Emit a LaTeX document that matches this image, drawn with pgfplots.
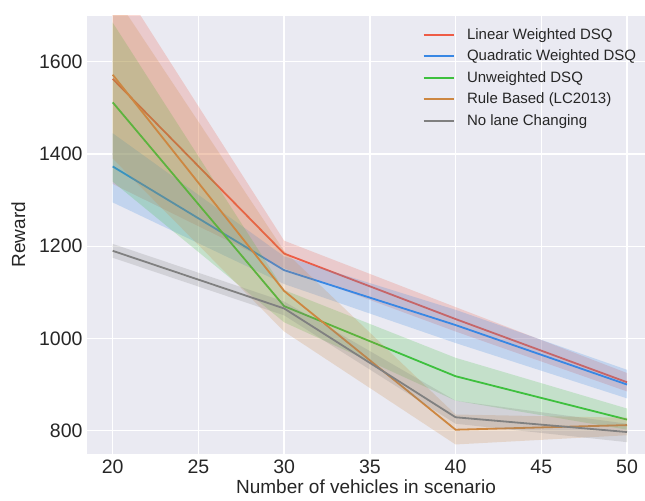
\documentclass[border=0pt]{standalone}
\usepackage{fontspec}
\setmainfont{Liberation Sans}
\usepackage{pgfplots}
\pgfplotsset{compat=1.18}
\definecolor{bgc}{HTML}{EAEAF2}
\definecolor{txt}{HTML}{262626}
\definecolor{cred}{RGB}{238,92,70}
\definecolor{cblue}{RGB}{56,135,228}
\definecolor{cgreen}{RGB}{62,192,62}
\definecolor{cbrown}{RGB}{205,135,65}
\definecolor{cgray}{RGB}{128,128,128}
\begin{document}
\begin{tikzpicture}
\begin{axis}[
  scale only axis, width=558pt, height=438pt,
  xmin=18.5, xmax=51.05, ymin=750, ymax=1700,
  axis background/.style={fill=bgc},
  axis line style={draw=none},
  major tick length=0pt,
  xtick={20,25,30,35,40,45,50},
  ytick={800,1000,1200,1400,1600},
  grid=major,
  major grid style={white, line width=1.3pt},
  ticklabel style={font=\fontsize{19.5}{23}\selectfont, text=txt},
  /pgf/number format/assume math mode=true,
  /pgf/number format/1000 sep={},
  xticklabel style={yshift=-3pt},
  yticklabel style={xshift=-1pt},
  label style={font=\fontsize{19}{23}\selectfont, text=txt},
  xlabel={Number of vehicles in scenario},
  ylabel={Reward},
  xlabel style={inner sep=0pt, text depth=0pt, yshift=-2pt},
  ylabel style={yshift=7pt},
  legend cell align=left,
  legend style={at={(rel axis cs:0.601,0.975)}, anchor=north west, draw=none, fill=none,
    font=\fontsize{15}{18}\selectfont, text=txt, inner sep=0pt, row sep=6.2pt,
    nodes={inner sep=1.5pt},
    /tikz/every odd column/.append style={column sep=11pt}},
  legend image code/.code={\draw[#1, line width=2pt] (0pt,0pt) -- (30pt,0pt);},
]
% Linear Weighted DSQ
\addplot[draw=none, fill=cred, fill opacity=0.22, forget plot] coordinates {(20,1795) (30,1212) (40,1068) (50,925) (50,885) (40,1015) (30,1152) (20,1335)} --cycle;
\addplot[cred, line width=1.8pt] coordinates {(20,1563) (30,1184) (40,1042) (50,905)};
\addlegendentry{Linear Weighted DSQ}
% Quadratic Weighted DSQ
\addplot[draw=none, fill=cblue, fill opacity=0.22, forget plot] coordinates {(20,1445) (30,1178) (40,1062) (50,932) (50,870) (40,990) (30,1118) (20,1295)} --cycle;
\addplot[cblue, line width=1.8pt] coordinates {(20,1373) (30,1148) (40,1029) (50,900)};
\addlegendentry{Quadratic Weighted DSQ}
% Unweighted DSQ
\addplot[draw=none, fill=cgreen, fill opacity=0.22, forget plot] coordinates {(20,1685) (30,1105) (40,958) (50,848) (50,802) (40,865) (30,1035) (20,1340)} --cycle;
\addplot[cgreen, line width=1.8pt] coordinates {(20,1512) (30,1070) (40,918) (50,824)};
\addlegendentry{Unweighted DSQ}
% Rule Based
\addplot[draw=none, fill=cbrown, fill opacity=0.22, forget plot] coordinates {(20,1750) (30,1190) (40,835) (50,828) (50,790) (40,770) (30,1015) (20,1390)} --cycle;
\addplot[cbrown, line width=1.8pt] coordinates {(20,1572) (30,1103) (40,802) (50,812)};
\addlegendentry{Rule Based (LC2013)}
% No lane changing
\addplot[draw=none, fill=cgray, fill opacity=0.22, forget plot] coordinates {(20,1205) (30,1080) (40,865) (50,815) (50,775) (40,815) (30,1050) (20,1175)} --cycle;
\addplot[cgray, line width=1.8pt] coordinates {(20,1190) (30,1065) (40,829) (50,797)};
\addlegendentry{No lane Changing}
\end{axis}
\pgfresetboundingbox
\useasboundingbox ([xshift=-87pt,yshift=-47pt]current axis.south west) rectangle ([yshift=15.7pt]current axis.north east);
\end{tikzpicture}
\end{document}
